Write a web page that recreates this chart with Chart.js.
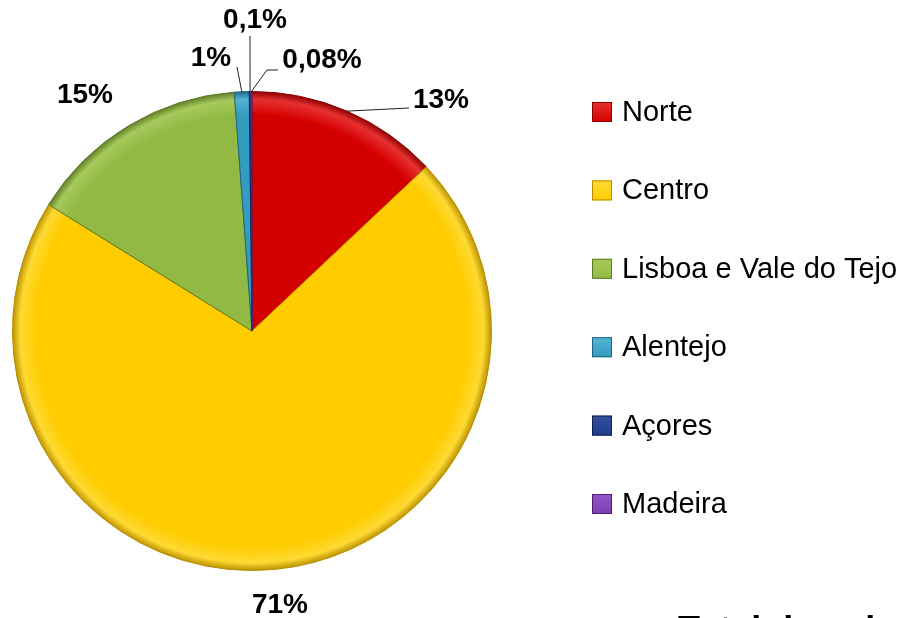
<!DOCTYPE html>
<html>
<head>
<meta charset="utf-8">
<script src="https://cdn.jsdelivr.net/npm/chart.js@4.4.1/dist/chart.umd.min.js"></script>
<style>
  body { margin: 0; background: #fff; }
  #pieChart { display: block; }
</style>
</head>
<body>
<canvas id="pieChart" width="919" height="618"></canvas>
<script>
// DATA //
var regions = ["Norte", "Centro", "Lisboa e Vale do Tejo", "Alentejo", "Açores", "Madeira"];
var shares = [13, 71, 15, 1, 0.1, 0.08];
var sliceColors = ["#D40000", "#FFCC00", "#92B944", "#339CC0", "#1F3C88", "#7D3DB0"];
var rimColors = ["#E83030", "#FFDA33", "#A6CA5C", "#55B4D4", "#3552A0", "#9556C8"];
var edgeColors = ["#8A0000", "#B88F00", "#5E7A25", "#1E6680", "#10214F", "#4C2170"];

// label placement relative to pie centre, and leader line end (null = no line)
var labelSpots = [[189, -231], [28, 274], [-167, -236], [-41, -273], [3, -311], [70, -271]];
var leaderEnds = [[157, -223], null, null, [-15, -264], [-2, -295], [15, -261]];

var fmt = function (v) { return String(v).replace(".", ",") + "%"; };

// shaded fill, a bit like the bevel of the original
var sliceFill = function (context) {
    var chart = context.chart;
    var area = chart.chartArea;
    var i = context.dataIndex;
    if (!area) return sliceColors[i];
    var cx = (area.left + area.right) / 2, cy = (area.top + area.bottom) / 2;
    var r = Math.min(area.right - area.left, area.bottom - area.top) / 2;
    var g = chart.ctx.createRadialGradient(cx, cy, 0, cx, cy, r);
    g.addColorStop(0, sliceColors[i]);
    g.addColorStop(0.9, sliceColors[i]);
    g.addColorStop(0.965, rimColors[i]);
    g.addColorStop(1, edgeColors[i]);
    return g;
};

// LABELS + LEGEND PLUGIN //
var extrasPlugin = {
    id: "extras",
    afterDatasetsDraw: function (chart) {
        var ctx = chart.ctx;
        var meta = chart.getDatasetMeta(0);
        var cx = meta.data[0].x, cy = meta.data[0].y;
        ctx.save();
        // leader lines
        ctx.strokeStyle = "#222";
        ctx.lineWidth = 1;
        meta.data.forEach(function (arc, i) {
            if (!leaderEnds[i]) return;
            var mid = (arc.startAngle + arc.endAngle) / 2;
            var r = arc.outerRadius;
            ctx.beginPath();
            ctx.moveTo(cx + Math.cos(mid) * r, cy + Math.sin(mid) * r);
            ctx.lineTo(cx + leaderEnds[i][0], cy + leaderEnds[i][1]);
            if (i === 5) ctx.lineTo(cx + leaderEnds[i][0] + 11, cy + leaderEnds[i][1]);
            ctx.stroke();
        });
        // value labels
        ctx.fillStyle = "#000";
        ctx.font = "bold 28px 'Liberation Sans', Arial, sans-serif";
        ctx.textAlign = "center";
        ctx.textBaseline = "middle";
        shares.forEach(function (v, i) {
            ctx.fillText(fmt(v), cx + labelSpots[i][0], cy + labelSpots[i][1]);
        });
        // legend
        ctx.font = "29px 'Liberation Sans', Arial, sans-serif";
        ctx.textAlign = "left";
        regions.forEach(function (name, i) {
            var y = 112 + i * 78.4;
            var g = ctx.createLinearGradient(592, y - 10, 592, y + 10);
            g.addColorStop(0, rimColors[i]);
            g.addColorStop(1, sliceColors[i]);
            ctx.fillStyle = g;
            ctx.fillRect(592, y - 10, 20, 20);
            ctx.strokeStyle = edgeColors[i];
            ctx.strokeRect(592.5, y - 9.5, 19, 19);
            ctx.fillStyle = "#000";
            ctx.fillText(name, 622, y + 1);
        });
        // clipped title at the bottom
        ctx.font = "bold 36px 'Liberation Sans', Arial, sans-serif";
        ctx.textBaseline = "alphabetic";
        ctx.fillText("Total de animais", 678, 642);
        ctx.restore();
    }
};

// CREATE PIE CHART //
var pieChart = new Chart(document.getElementById("pieChart"), {
    type: "pie",
    data: {
        labels: regions,
        datasets: [{
            data: shares,
            backgroundColor: sliceFill,
            borderColor: edgeColors,
            borderWidth: 1
        }]
    },
    options: {
        responsive: false,
        animation: false,
        layout: { padding: { left: 12, right: 427, top: 91, bottom: 47 } },
        plugins: {
            legend: { display: false },
            tooltip: { enabled: false }
        }
    },
    plugins: [extrasPlugin]
});
</script>
</body>
</html>
